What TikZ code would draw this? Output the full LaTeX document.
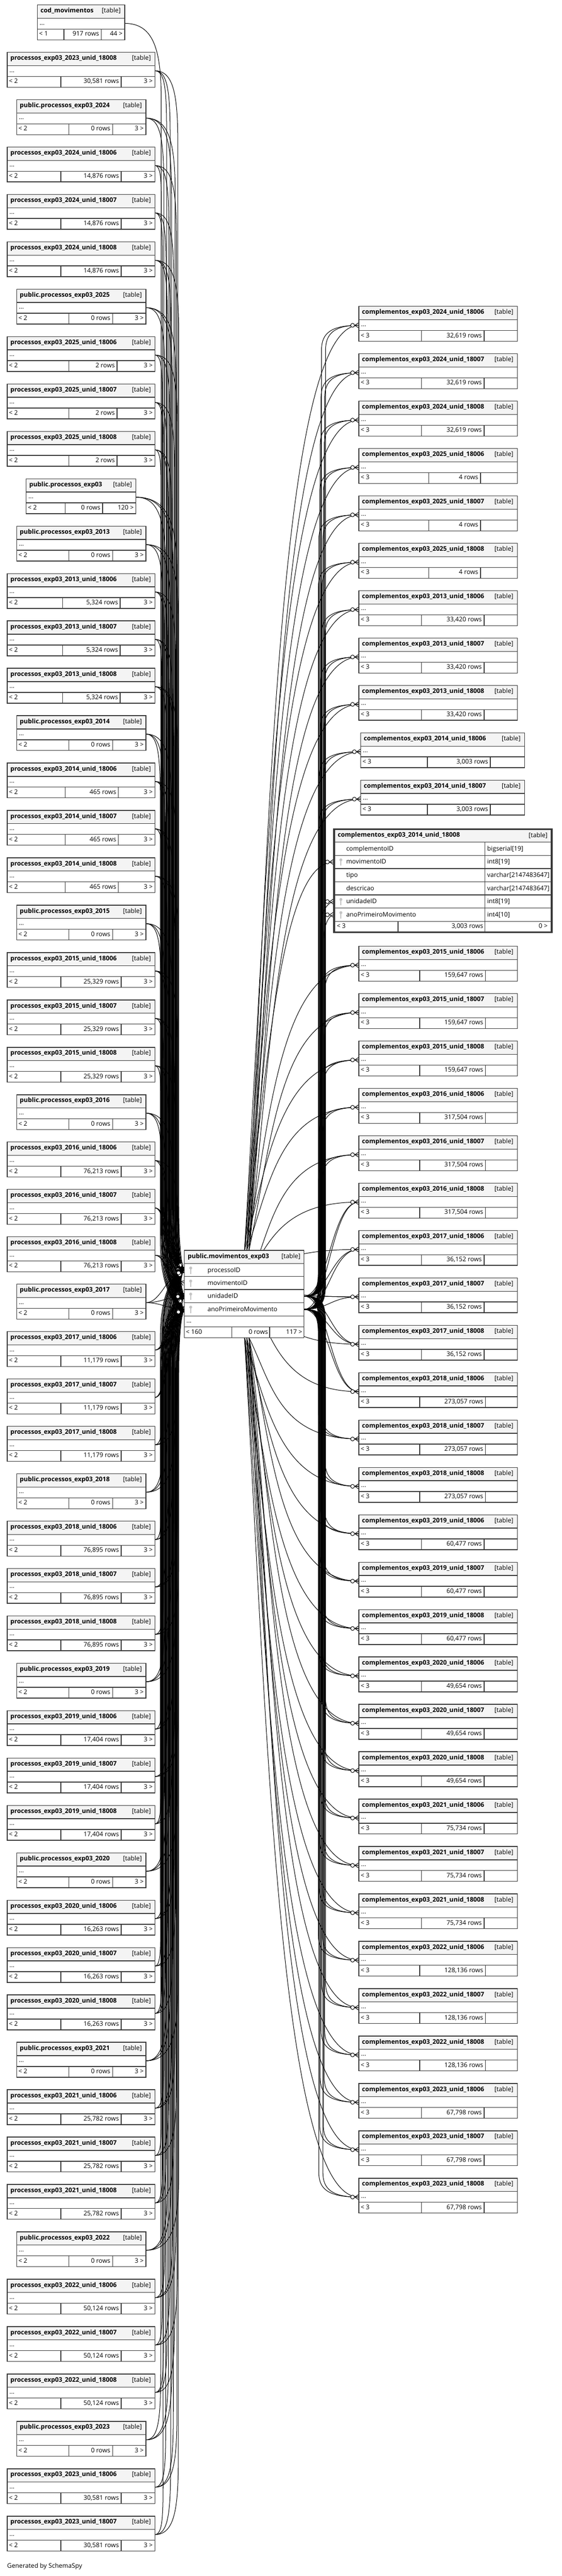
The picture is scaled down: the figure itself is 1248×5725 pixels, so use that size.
\documentclass[tikz,border=0pt]{standalone}
\usepackage{fontspec}
\setmainfont{Open Sans}
\pgfdeclarelayer{bg}
\pgfdeclarelayer{edges}
\pgfsetlayers{bg,edges,main}
\definecolor{bd}{RGB}{56,56,56}
\definecolor{hd}{RGB}{244,244,244}
\definecolor{keyc}{RGB}{196,196,196}
\tikzset{
 tx/.style={inner sep=0pt, outer sep=0pt, font=\fontsize{14}{16}\selectfont},
 tbold/.style={inner sep=0pt, outer sep=0pt, font=\fontsize{14}{16}\selectfont\bfseries},
 tline/.style={draw=bd, line width=1.6pt},
 fk/.style={line width=1.15pt},
}
% kinds of tables: x left, x right, footer dividers, footer texts
\def\setkindA{\def\Xl{16}\def\Xr{344}\def\Da{135}\def\Db{269}\def\Fl{< 2}\def\Fr{3 >}}
\def\setkindB{\def\Xl{16}\def\Xr{344}\def\Da{139}\def\Db{267}\def\Fl{< 2}\def\Fr{3 >}}
\def\setkindC{\def\Xl{16}\def\Xr{344}\def\Da{145}\def\Db{263}\def\Fl{< 2}\def\Fr{3 >}}
\def\setkindD{\def\Xl{16}\def\Xr{344}\def\Da{153}\def\Db{260}\def\Fl{< 2}\def\Fr{3 >}}
\def\setkindP{\def\Xl{37}\def\Xr{324}\def\Da{153}\def\Db{250}\def\Fl{< 2}\def\Fr{3 >}}
\def\setkindQ{\def\Xl{58}\def\Xr{302}\def\Da{145}\def\Db{228}\def\Fl{< 2}\def\Fr{120 >}}
\def\setkindK{\def\Xl{83}\def\Xr{277}\def\Da{142}\def\Db{225}\def\Fl{< 1}\def\Fr{44 >}}
\def\setkindE{\def\Xl{797}\def\Xr{1149}\def\Da{936}\def\Db{1075}\def\Fl{< 3}\def\Fr{}}
\def\setkindF{\def\Xl{797}\def\Xr{1149}\def\Da{932}\def\Db{1078}\def\Fl{< 3}\def\Fr{}}
\def\setkindG{\def\Xl{797}\def\Xr{1149}\def\Da{952}\def\Db{1067}\def\Fl{< 3}\def\Fr{}}
\def\setkindH{\def\Xl{801}\def\Xr{1165}\def\Da{949}\def\Db{1089}\def\Fl{< 3}\def\Fr{}}

% collapsed table: #1 name, #2 xl, #3 xr, #4 top, #5 d1, #6 d2, #7 title, #8 rows
\newcommand\smalltable[8]{%
 \pgfmathsetmacro\ya{#4+29.5}%
 \pgfmathsetmacro\yb{#4+53.5}%
 \pgfmathsetmacro\yc{#4+77.5}%
 \fill[white] (#2,#4) rectangle (#3,\yc);
 \fill[hd] (#2,#4) rectangle (#3,\ya);
 \draw[tline] (#2,\ya) -- (#3,\ya) (#2,\yb) -- (#3,\yb) (#5,\yb) -- (#5,\yc) (#6,\yb) -- (#6,\yc);
 \draw[tline] (#2,#4) rectangle (#3,\yc);
 \node[tbold, anchor=base west] (#1t) at ({#2+7},{#4+17.3}) {#7};
 \node[tx, anchor=base east] (#1k) at ({#3-9},{#4+17.3}) {[table]};
 \node[tx, anchor=base west] (#1d) at ({#2+5},{#4+44}) {...};
 \node[tx, anchor=base west] (#1a) at ({#2+4},{#4+69}) {\Fl};
 \node[tx, anchor=base east] (#1b) at ({#6-5},{#4+69}) {#8};
 \node[tx, anchor=base east] (#1c) at ({#3-5},{#4+69}) {\Fr};
}
% crow's foot with open circle: #1 x, #2 y (end point), #3 ux, #4 uy (unit direction of arrival)
\newcommand\crow[4]{%
 \draw[fk] ({#1-9*(#3)},{#2-9*(#4)}) -- ({#1-6*(#4)},{#2+6*(#3)})
           ({#1-9*(#3)},{#2-9*(#4)}) -- ({#1+6*(#4)},{#2-6*(#3)});
 \draw[fk, fill=white] ({#1-14*(#3)},{#2-14*(#4)}) circle (4.3pt);
}
% left edge: #1 xr, #2 ys, #3 yt, #4 lane, #5 start name, #6 end name
\newcommand\leftedge[6]{%
 \pgfmathsetmacro\dd{#3>#2 ? 1 : -1}%
 \pgfmathsetmacro\spn{abs(#3-#2)}%
 \pgfmathsetmacro\ee{mod(#4*7,13)}%
 \ifdim\spn pt>300pt
  \draw[fk] (#5) .. controls ({#1+0.7*(#4-#1)+8},#2) and (#4,{#2+(\dd)*60}) .. (#4,{#2+(\dd)*170})
    -- (#4,{#3-(\dd)*150}) .. controls (#4,{#3-(\dd)*55}) and ({#4+0.5*(409-#4)},{#3-(\dd)*\ee}) .. (#6);
  \pgfmathsetmacro\vx{0.5*(409-#4)}%
  \pgfmathsetmacro\vy{(\dd)*\ee}%
  \pgfmathsetmacro\vl{veclen(\vx,\vy)}%
  \pgfmathsetmacro\ux{\vx/\vl}%
  \pgfmathsetmacro\uy{\vy/\vl}%
  \crow{409}{#3}{\ux}{\uy}
 \else
  \draw[fk] (#5) .. controls ({#1+35},#2) and (375,#3) .. (#6);
  \crow{409}{#3}{1}{0}
 \fi
}
% edge from movimentoID (leaves the table through its top or bottom): #1 x, #2 y, #3 idx, #4 end name
\newcommand\Medge[4]{%
 \pgfmathsetmacro\sx{543+mod(#3*5,15)}%
 \pgfmathsetmacro\sy{#2<2550 ? 2779 : (#2>3150 ? 2973 : 2851.5)}%
 \pgfmathsetmacro\my{#2+0.55*(\sy-#2)}%
 \draw[fk] (\sx,\sy) .. controls ({\sx+50},\my) and (620,#2) .. (#4);
}
% edge from unidadeID / anoPrimeiroMovimento: #1 x, #2 y, #3 ys, #4 lane, #5 start name, #6 end name
\newcommand\UAedge[6]{%
 \pgfmathsetmacro\dd{#2>#3 ? 1 : -1}%
 \pgfmathsetmacro\spn{abs(#2-#3)}%
 \pgfmathsetmacro\cx{min(#4+20,#1-8)}%
 \ifdim\spn pt>250pt
  \draw[fk] (#5) .. controls ({#4-8},#3) and (#4,{#3+(\dd)*15}) .. (#4,{#3+(\dd)*60})
    -- (#4,{#2-(\dd)*55}) .. controls (#4,{#2-(\dd)*18}) and (\cx,#2) .. (#6);
 \else
  \draw[fk] (#5) .. controls (730,#3) and (735,#2) .. (#6);
 \fi
}
\newcommand\keyicon[2]{%
 \fill[keyc] (#1,{#2+10}) circle (3.3pt);
 \fill[keyc] ({#1-1},{#2+11}) rectangle ({#1+1},{#2+23});
}

\begin{document}
\begin{tikzpicture}[x=1pt,y=-1pt]
\useasboundingbox (0,0) rectangle (1248,5725);
\begin{pgfonlayer}{bg}\fill[white] (0,0) rectangle (1248,5725);\end{pgfonlayer}
\coordinate (CinP) at (409,2822.5);
\coordinate (CinM) at (409,2851.5);
\coordinate (CinU) at (409,2880.5);
\coordinate (CinA) at (409,2910);
\coordinate (CoutU) at (675,2880.5);
\coordinate (CoutA) at (675,2910);

% ---------------- left column ----------------
\foreach \Li/\Lk/\Lt/\Lr in {
 1/K/cod\_movimentos/917 rows,
 2/A/processos\_exp03\_2023\_unid\_18008/{30,581 rows},
 3/P/public.processos\_exp03\_2024/0 rows,
 4/A/processos\_exp03\_2024\_unid\_18006/{14,876 rows},
 5/A/processos\_exp03\_2024\_unid\_18007/{14,876 rows},
 6/A/processos\_exp03\_2024\_unid\_18008/{14,876 rows},
 7/P/public.processos\_exp03\_2025/0 rows,
 8/D/processos\_exp03\_2025\_unid\_18006/2 rows,
 9/D/processos\_exp03\_2025\_unid\_18007/2 rows,
 10/D/processos\_exp03\_2025\_unid\_18008/2 rows,
 11/Q/public.processos\_exp03/0 rows,
 12/P/public.processos\_exp03\_2013/0 rows,
 13/B/processos\_exp03\_2013\_unid\_18006/{5,324 rows},
 14/B/processos\_exp03\_2013\_unid\_18007/{5,324 rows},
 15/B/processos\_exp03\_2013\_unid\_18008/{5,324 rows},
 16/P/public.processos\_exp03\_2014/0 rows,
 17/C/processos\_exp03\_2014\_unid\_18006/465 rows,
 18/C/processos\_exp03\_2014\_unid\_18007/465 rows,
 19/C/processos\_exp03\_2014\_unid\_18008/465 rows,
 20/P/public.processos\_exp03\_2015/0 rows,
 21/A/processos\_exp03\_2015\_unid\_18006/{25,329 rows},
 22/A/processos\_exp03\_2015\_unid\_18007/{25,329 rows},
 23/A/processos\_exp03\_2015\_unid\_18008/{25,329 rows},
 24/P/public.processos\_exp03\_2016/0 rows,
 25/A/processos\_exp03\_2016\_unid\_18006/{76,213 rows},
 26/A/processos\_exp03\_2016\_unid\_18007/{76,213 rows},
 27/A/processos\_exp03\_2016\_unid\_18008/{76,213 rows},
 28/P/public.processos\_exp03\_2017/0 rows,
 29/A/processos\_exp03\_2017\_unid\_18006/{11,179 rows},
 30/A/processos\_exp03\_2017\_unid\_18007/{11,179 rows},
 31/A/processos\_exp03\_2017\_unid\_18008/{11,179 rows},
 32/P/public.processos\_exp03\_2018/0 rows,
 33/A/processos\_exp03\_2018\_unid\_18006/{76,895 rows},
 34/A/processos\_exp03\_2018\_unid\_18007/{76,895 rows},
 35/A/processos\_exp03\_2018\_unid\_18008/{76,895 rows},
 36/P/public.processos\_exp03\_2019/0 rows,
 37/A/processos\_exp03\_2019\_unid\_18006/{17,404 rows},
 38/A/processos\_exp03\_2019\_unid\_18007/{17,404 rows},
 39/A/processos\_exp03\_2019\_unid\_18008/{17,404 rows},
 40/P/public.processos\_exp03\_2020/0 rows,
 41/A/processos\_exp03\_2020\_unid\_18006/{16,263 rows},
 42/A/processos\_exp03\_2020\_unid\_18007/{16,263 rows},
 43/A/processos\_exp03\_2020\_unid\_18008/{16,263 rows},
 44/P/public.processos\_exp03\_2021/0 rows,
 45/A/processos\_exp03\_2021\_unid\_18006/{25,782 rows},
 46/A/processos\_exp03\_2021\_unid\_18007/{25,782 rows},
 47/A/processos\_exp03\_2021\_unid\_18008/{25,782 rows},
 48/P/public.processos\_exp03\_2022/0 rows,
 49/A/processos\_exp03\_2022\_unid\_18006/{50,124 rows},
 50/A/processos\_exp03\_2022\_unid\_18007/{50,124 rows},
 51/A/processos\_exp03\_2022\_unid\_18008/{50,124 rows},
 52/P/public.processos\_exp03\_2023/0 rows,
 53/A/processos\_exp03\_2023\_unid\_18006/{30,581 rows},
 54/A/processos\_exp03\_2023\_unid\_18007/{30,581 rows}}{
  \csname setkind\Lk\endcsname
  \pgfmathsetmacro\tp{11+(\Li-1)*105.3}
  \pgfmathsetmacro\py{\tp+41}
  \coordinate (L\Li p) at (\Xr,\py);
  \begin{pgfonlayer}{edges}
   \ifnum\Li=1
     \leftedge{\Xr}{\py}{2851.5}{358}{L\Li p}{CinM}
   \else
     \foreach \tg/\q/\cn in {2822.5/0/CinP, 2880.5/1/CinU, 2910/2/CinA}{
       \pgfmathsetmacro\bx{int(356+mod(\Li*11+\q*17,42))}
       \leftedge{\Xr}{\py}{\tg}{\bx}{L\Li p}{\cn}
     }
   \fi
  \end{pgfonlayer}
  \smalltable{L\Li}{\Xl}{\Xr}{\tp}{\Da}{\Db}{\Lt}{\Lr}
}

% ---------------- right column ----------------
\foreach \Ri/\Rk/\Rt/\Rr in {
 1/E/complementos\_exp03\_2024\_unid\_18006/{32,619 rows},
 2/E/complementos\_exp03\_2024\_unid\_18007/{32,619 rows},
 3/E/complementos\_exp03\_2024\_unid\_18008/{32,619 rows},
 4/G/complementos\_exp03\_2025\_unid\_18006/4 rows,
 5/G/complementos\_exp03\_2025\_unid\_18007/4 rows,
 6/G/complementos\_exp03\_2025\_unid\_18008/4 rows,
 7/E/complementos\_exp03\_2013\_unid\_18006/{33,420 rows},
 8/E/complementos\_exp03\_2013\_unid\_18007/{33,420 rows},
 9/E/complementos\_exp03\_2013\_unid\_18008/{33,420 rows},
 10/H/complementos\_exp03\_2014\_unid\_18006/{3,003 rows},
 11/H/complementos\_exp03\_2014\_unid\_18007/{3,003 rows},
 13/F/complementos\_exp03\_2015\_unid\_18006/{159,647 rows},
 14/F/complementos\_exp03\_2015\_unid\_18007/{159,647 rows},
 15/F/complementos\_exp03\_2015\_unid\_18008/{159,647 rows},
 16/F/complementos\_exp03\_2016\_unid\_18006/{317,504 rows},
 17/F/complementos\_exp03\_2016\_unid\_18007/{317,504 rows},
 18/F/complementos\_exp03\_2016\_unid\_18008/{317,504 rows},
 19/E/complementos\_exp03\_2017\_unid\_18006/{36,152 rows},
 20/E/complementos\_exp03\_2017\_unid\_18007/{36,152 rows},
 21/E/complementos\_exp03\_2017\_unid\_18008/{36,152 rows},
 22/F/complementos\_exp03\_2018\_unid\_18006/{273,057 rows},
 23/F/complementos\_exp03\_2018\_unid\_18007/{273,057 rows},
 24/F/complementos\_exp03\_2018\_unid\_18008/{273,057 rows},
 25/E/complementos\_exp03\_2019\_unid\_18006/{60,477 rows},
 26/E/complementos\_exp03\_2019\_unid\_18007/{60,477 rows},
 27/E/complementos\_exp03\_2019\_unid\_18008/{60,477 rows},
 28/E/complementos\_exp03\_2020\_unid\_18006/{49,654 rows},
 29/E/complementos\_exp03\_2020\_unid\_18007/{49,654 rows},
 30/E/complementos\_exp03\_2020\_unid\_18008/{49,654 rows},
 31/E/complementos\_exp03\_2021\_unid\_18006/{75,734 rows},
 32/E/complementos\_exp03\_2021\_unid\_18007/{75,734 rows},
 33/E/complementos\_exp03\_2021\_unid\_18008/{75,734 rows},
 34/F/complementos\_exp03\_2022\_unid\_18006/{128,136 rows},
 35/F/complementos\_exp03\_2022\_unid\_18007/{128,136 rows},
 36/F/complementos\_exp03\_2022\_unid\_18008/{128,136 rows},
 37/E/complementos\_exp03\_2023\_unid\_18006/{67,798 rows},
 38/E/complementos\_exp03\_2023\_unid\_18007/{67,798 rows},
 39/E/complementos\_exp03\_2023\_unid\_18008/{67,798 rows}}{
  \csname setkind\Rk\endcsname
  \pgfmathsetmacro\tp{\Ri<12 ? 681+(\Ri-1)*105.3 : 2103+(\Ri-13)*105.3}
  \pgfmathsetmacro\py{\tp+42}
  \coordinate (R\Ri p) at (\Xl,\py);
  \begin{pgfonlayer}{edges}
    \Medge{\Xl}{\py}{\Ri}{R\Ri p}
    \pgfmathsetmacro\bxu{int(707+mod(\Ri*7,17))}
    \pgfmathsetmacro\bxa{int(707+mod(\Ri*7+9,17))}
    \UAedge{\Xl}{\py}{2880.5}{\bxu}{CoutU}{R\Ri p}
    \UAedge{\Xl}{\py}{2910}{\bxa}{CoutA}{R\Ri p}
    \crow{\Xl}{\py}{1}{0}
  \end{pgfonlayer}
  \smalltable{R\Ri}{\Xl}{\Xr}{\tp}{\Da}{\Db}{\Rt}{\Rr}
}

% ---------------- expanded table complementos_exp03_2014_unid_18008 ----------------
\coordinate (XM) at (741,1915.7);
\coordinate (XU) at (741,2003.7);
\coordinate (XA) at (741,2033);
\begin{pgfonlayer}{edges}
  \Medge{741}{1915.7}{12}{XM}
  \UAedge{741}{2003.7}{2880.5}{712}{CoutU}{XU}
  \UAedge{741}{2033}{2910}{719}{CoutA}{XA}
  \crow{741}{1915.7}{1}{0}
  \crow{741}{2003.7}{1}{0}
  \crow{741}{2033}{1}{0}
\end{pgfonlayer}
\fill[white] (742,1843) rectangle (1225,2072);
\fill[hd] (742,1843) rectangle (1225,1871.7);
\draw[tline] (742,1871.7) -- (1225,1871.7) (742,1901) -- (1225,1901) (742,1930.3) -- (1225,1930.3)
  (742,1959.7) -- (1225,1959.7) (742,1989) -- (1225,1989) (742,2018.3) -- (1225,2018.3)
  (742,2047.7) -- (1225,2047.7) (1077,1871.7) -- (1077,2072) (884,2047.7) -- (884,2072);
\draw[draw=bd, line width=4pt] (742,1843) rectangle (1225,2072);
\node[tbold, anchor=base west] (X12t) at (750,1860) {complementos\_exp03\_2014\_unid\_18008};
\node[tx, anchor=base east] (X12k) at (1216,1861) {[table]};
\foreach \rt/\cname/\ctype/\nm in {1871.7/complementoID/bigserial[19]/a, 1901/movimentoID/int8[19]/b,
   1930.3/tipo/varchar[2147483647]/c, 1959.7/descricao/varchar[2147483647]/d,
   1989/unidadeID/int8[19]/e, 2018.3/anoPrimeiroMovimento/int4[10]/f}{
  \node[tx, anchor=base west] (X12n\nm) at (769,{\rt+19}) {\cname};
  \node[tx, anchor=base west] (X12y\nm) at (1082,{\rt+19}) {\ctype};
}
\keyicon{757}{1901}
\keyicon{757}{1989}
\keyicon{757}{2018.3}
\node[tx, anchor=base west] (X12fa) at (748,2063) {< 3};
\node[tx, anchor=base east] (X12fb) at (1073,2063) {3,003 rows};
\node[tx, anchor=base east] (X12fc) at (1216,2063) {0 >};

% ---------------- central table public.movimentos_exp03 ----------------
\fill[white] (409,2779) rectangle (675,2973);
\fill[hd] (409,2779) rectangle (675,2808);
\draw[tline] (409,2808) -- (675,2808) (409,2837) -- (675,2837) (409,2866) -- (675,2866)
  (409,2895) -- (675,2895) (409,2925) -- (675,2925) (409,2949) -- (675,2949)
  (515,2949) -- (515,2973) (599,2949) -- (599,2973);
\draw[tline] (409,2779) rectangle (675,2973);
\node[tbold, anchor=base west] (Ct) at (417,2797) {public.movimentos\_exp03};
\node[tx, anchor=base east] (Ck) at (667,2797) {[table]};
\foreach \rt/\cname/\nm in {2808/processoID/a, 2837/movimentoID/b, 2866/unidadeID/c, 2895/anoPrimeiroMovimento/d}{
  \keyicon{423.5}{\rt}
  \node[tx, anchor=base west] (Cn\nm) at (461,{\rt+19}) {\cname};
}
\node[tx, anchor=base west] (Cd) at (414,2940) {...};
\node[tx, anchor=base west] (Cfa) at (413,2965) {< 160};
\node[tx, anchor=base east] (Cfb) at (595,2965) {0 rows};
\node[tx, anchor=base east] (Cfc) at (671,2965) {117 >};

\node[tx, anchor=base west] (gen) at (16,5707) {Generated by SchemaSpy};
\end{tikzpicture}
\end{document}
